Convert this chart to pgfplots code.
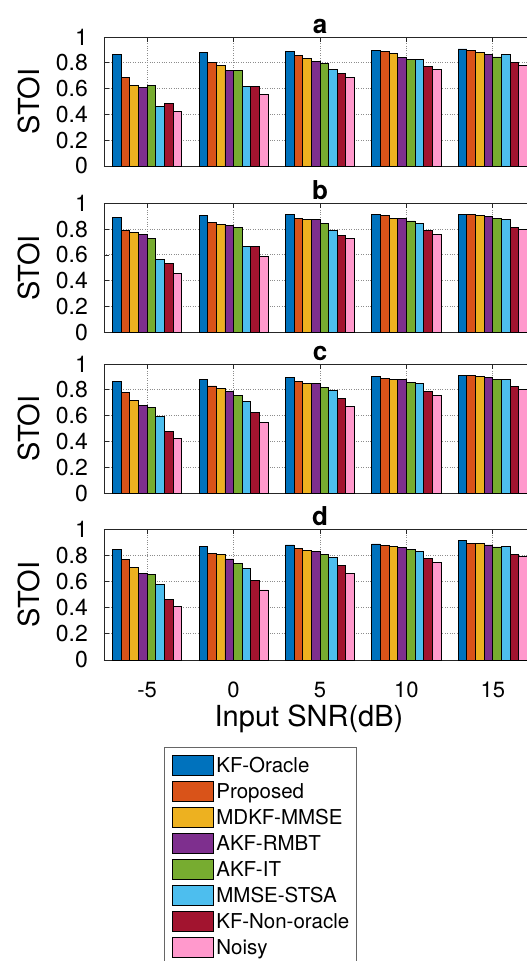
\documentclass[border=0pt]{standalone}
\usepackage{pgfplots}
\pgfplotsset{compat=1.18}
\usepackage{pgfplotstable}
\usepackage{fontspec}
\setmainfont{TeX Gyre Heros}

\definecolor{c1}{rgb}{0,0.447,0.741}
\definecolor{c2}{rgb}{0.85,0.325,0.098}
\definecolor{c3}{rgb}{0.929,0.694,0.125}
\definecolor{c4}{rgb}{0.494,0.184,0.556}
\definecolor{c5}{rgb}{0.466,0.674,0.188}
\definecolor{c6}{rgb}{0.301,0.745,0.933}
\definecolor{c7}{rgb}{0.635,0.078,0.184}
\definecolor{c8}{rgb}{1,0.6,0.8}

\pgfplotstableread{
x A B C D E F G H
0 0.863 0.689 0.627 0.606 0.624 0.464 0.487 0.425
1 0.881 0.801 0.782 0.741 0.741 0.614 0.617 0.554
2 0.891 0.860 0.837 0.808 0.798 0.751 0.715 0.687
3 0.899 0.891 0.870 0.839 0.824 0.826 0.772 0.746
4 0.907 0.899 0.878 0.868 0.845 0.868 0.806 0.780
}\tabA
\pgfplotstableread{
x A B C D E F G H
0 0.891 0.786 0.775 0.760 0.724 0.563 0.535 0.455
1 0.907 0.850 0.835 0.829 0.814 0.669 0.669 0.589
2 0.915 0.886 0.876 0.873 0.842 0.788 0.749 0.724
3 0.915 0.902 0.886 0.879 0.863 0.845 0.788 0.762
4 0.917 0.915 0.904 0.899 0.881 0.876 0.811 0.796
}\tabB
\pgfplotstableread{
x A B C D E F G H
0 0.863 0.781 0.719 0.678 0.665 0.593 0.477 0.423
1 0.884 0.830 0.812 0.786 0.753 0.711 0.624 0.546
2 0.897 0.866 0.851 0.851 0.820 0.796 0.735 0.675
3 0.905 0.889 0.881 0.881 0.858 0.848 0.789 0.760
4 0.910 0.912 0.905 0.897 0.881 0.881 0.827 0.804
}\tabC
\pgfplotstableread{
x A B C D E F G H
0 0.849 0.768 0.709 0.663 0.651 0.579 0.464 0.413
1 0.867 0.816 0.804 0.773 0.740 0.702 0.612 0.536
2 0.880 0.852 0.837 0.834 0.804 0.783 0.722 0.663
3 0.888 0.875 0.867 0.862 0.844 0.832 0.776 0.747
4 0.918 0.895 0.890 0.880 0.865 0.867 0.811 0.791
}\tabD

\newcommand\bars[1]{%
\addplot[fill=c1, bar shift=-0.35] table[x=x,y=A]{#1};
\addplot[fill=c2, bar shift=-0.25] table[x=x,y=B]{#1};
\addplot[fill=c3, bar shift=-0.15] table[x=x,y=C]{#1};
\addplot[fill=c4, bar shift=-0.05] table[x=x,y=D]{#1};
\addplot[fill=c5, bar shift=0.05] table[x=x,y=E]{#1};
\addplot[fill=c6, bar shift=0.15] table[x=x,y=F]{#1};
\addplot[fill=c7, bar shift=0.25] table[x=x,y=G]{#1};
\addplot[fill=c8, bar shift=0.35] table[x=x,y=H]{#1};
}

\pgfplotsset{panel/.style={
  scale only axis, width=432pt,
  xmin=-0.5, xmax=4.5, ymin=0, ymax=1,
  ybar, bar width=0.1,
  every axis plot/.append style={draw=black, line width=0.9pt},
  xtick={0,1,2,3,4}, xticklabels={},
  ytick={0,0.2,0.4,0.6,0.8,1},
  /pgf/number format/assume math mode=true,
  tick align=inside, tick pos=both, major tick length=5pt,
  tick style={black!85, line width=0.8pt},
  grid=major, grid style={dotted, black!45, line width=0.9pt},
  axis line style={black!85, line width=0.9pt},
  yticklabel style={font=\fontsize{23}{23}\selectfont, inner sep=0pt, xshift=-16pt},
  ylabel={STOI},
  every axis y label/.style={at={([xshift=-75pt]axis description cs:0,0.5)}, rotate=90, anchor=center, font=\fontsize{29}{29}\selectfont},
  title style={at={(0.5,1)}, anchor=base, yshift=-2pt, font=\bfseries\fontsize{26}{26}\selectfont},
}}

\begin{document}
\begin{tikzpicture}
\path[use as bounding box] (0pt,0pt) rectangle (527pt,-961pt);
\begin{axis}[panel, at={(104pt,-166pt)}, anchor=south west, height=129pt, title={a}]
\bars{\tabA}
\end{axis}
\begin{axis}[panel, at={(104pt,-332.3pt)}, anchor=south west, height=129pt, title={b}]
\bars{\tabB}
\end{axis}
\begin{axis}[panel, at={(104pt,-493.3pt)}, anchor=south west, height=129.3pt, title={c}]
\bars{\tabC}
\end{axis}
\begin{axis}[panel, at={(104pt,-660pt)}, anchor=south west, height=130.7pt, title={d},
  xticklabels={-5,0,5,10,15},
  xticklabel style={anchor=base, yshift=-37pt, font=\fontsize{22}{22}\selectfont},
  xlabel={Input SNR(dB)},
  every axis x label/.style={at={([yshift=-66.7pt]axis description cs:0.4745,0)}, anchor=base, font=\fontsize{29}{29}\selectfont},
  legend cell align=left,
  legend image code/.code={\draw[#1, line width=0.9pt] (0pt,-10pt) rectangle (41pt,10pt);},
  legend style={at={(0.139,-0.666)}, anchor=north west, draw=black!60, line width=0.9pt,
    font=\fontsize{20.5}{20.5}\selectfont, inner xsep=7pt, inner ysep=5pt, row sep=1pt,
    nodes={inner sep=0pt, text height=20pt, text depth=5pt},
    /tikz/every odd column/.style={column sep=3pt}},
]
\bars{\tabD}
\legend{KF-Oracle,Proposed,MDKF-MMSE,AKF-RMBT,AKF-IT,MMSE-STSA,KF-Non-oracle,Noisy}
\end{axis}
\end{tikzpicture}
\end{document}
